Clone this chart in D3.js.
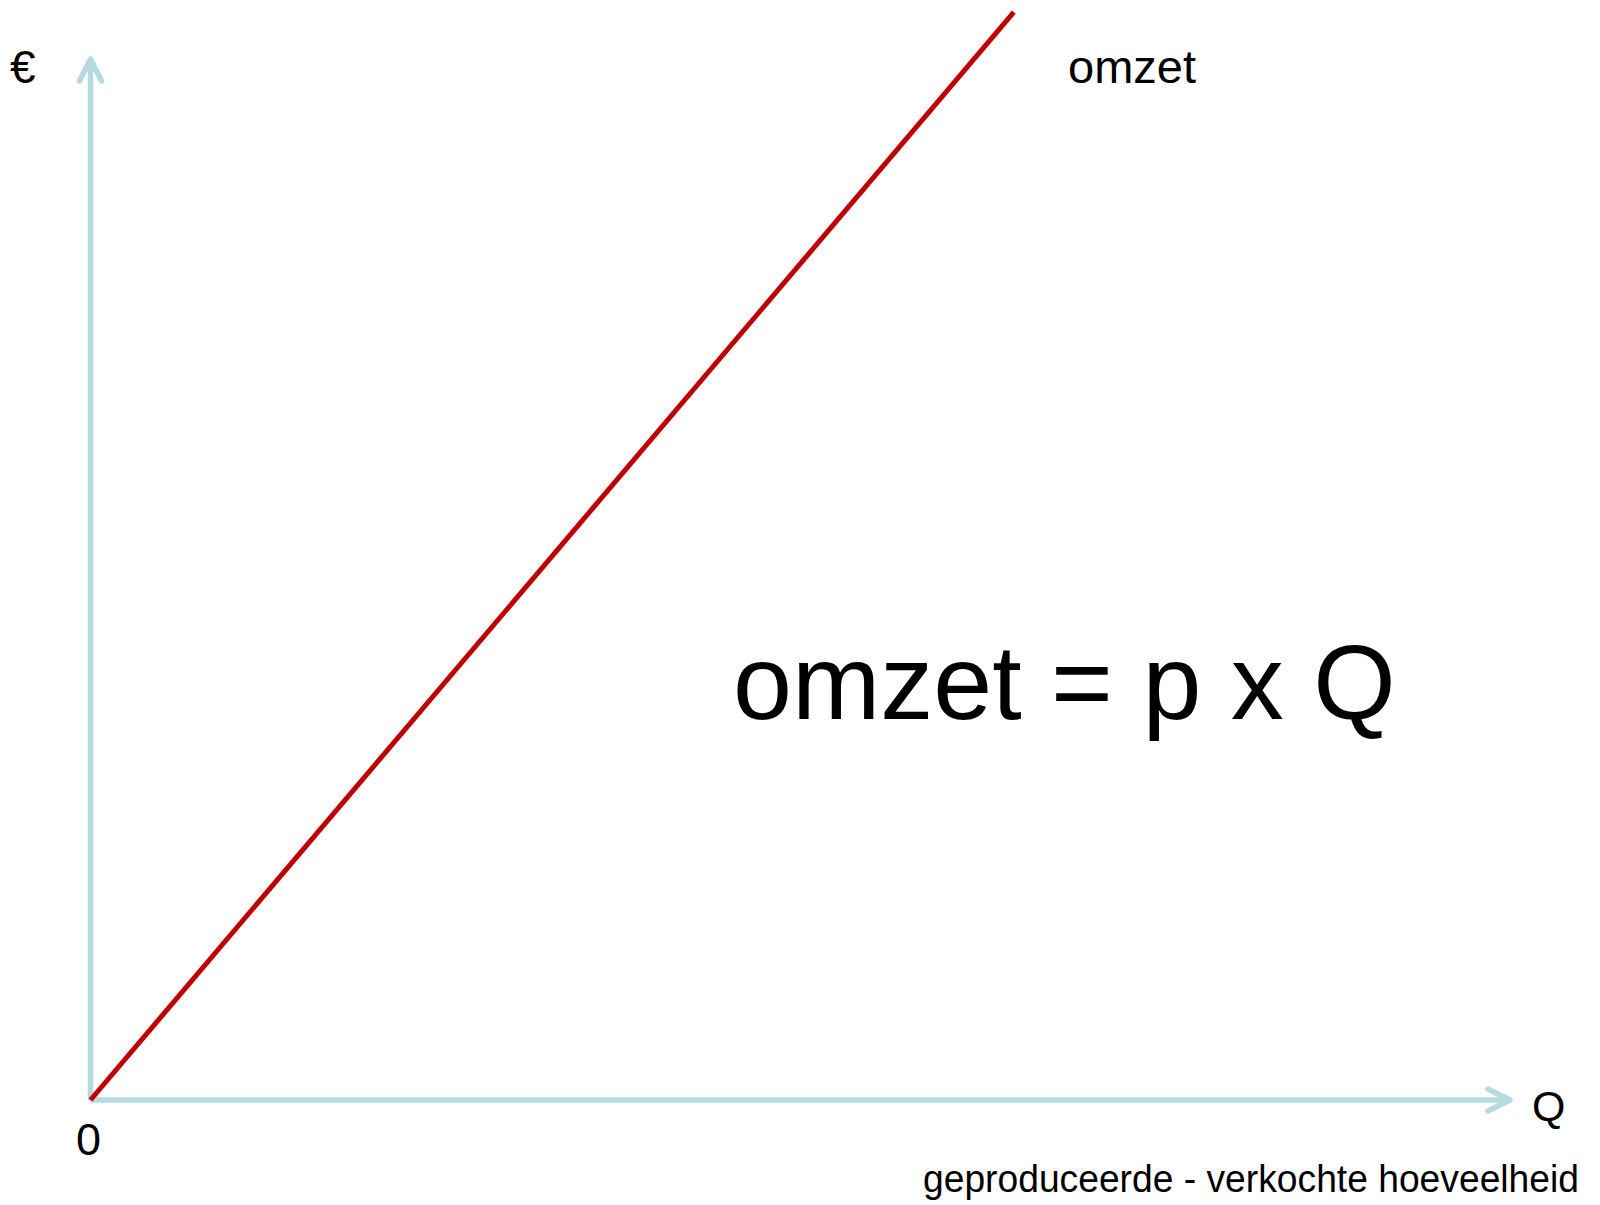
<!DOCTYPE html>
<html>
<head>
<meta charset="utf-8">
<script src="https://cdn.jsdelivr.net/npm/d3@7"></script>
<style>
  body { margin: 0; background: #fff; }
  text { font-family: "Liberation Sans", Arial, sans-serif; fill: #000; }
</style>
</head>
<body>
<div id="plot"></div>
<script>
var w = 1600;
var h = 1205;

// data (arbitrary units)
var quantity = [0, 65];
var revenue = [0, 104.4];
var lineLabel = "omzet";
var formula = "omzet = p x Q";
var xLabel = "geproduceerde - verkochte hoeveelheid";

var xScale = d3.scaleLinear().domain([0, 100]).range([90.5, 1511]);
var yScale = d3.scaleLinear().domain([0, 100]).range([1100, 58]);

var svg = d3.select("#plot")
            .append("svg")
            .attr("width", w)
            .attr("height", h);

var axisColor = "#b5dbe0";

// y axis with arrow
svg.append("line")
   .attr("x1", xScale(0)).attr("y1", yScale(0))
   .attr("x2", xScale(0)).attr("y2", yScale(100))
   .attr("stroke", axisColor).attr("stroke-width", 5.5);
svg.append("path")
   .attr("d", "M" + (xScale(0) - 11) + "," + (yScale(100) + 23) +
              "L" + xScale(0) + "," + (yScale(100) + 1) +
              "L" + (xScale(0) + 11) + "," + (yScale(100) + 23))
   .attr("fill", "none").attr("stroke", axisColor)
   .attr("stroke-width", 5.5).attr("stroke-linecap", "round").attr("stroke-linejoin", "round");

// x axis with arrow
svg.append("line")
   .attr("x1", xScale(0)).attr("y1", yScale(0))
   .attr("x2", xScale(100)).attr("y2", yScale(0))
   .attr("stroke", axisColor).attr("stroke-width", 5.5);
svg.append("path")
   .attr("d", "M" + (xScale(100) - 23) + "," + (yScale(0) - 11) +
              "L" + (xScale(100) - 1) + "," + yScale(0) +
              "L" + (xScale(100) - 23) + "," + (yScale(0) + 11))
   .attr("fill", "none").attr("stroke", axisColor)
   .attr("stroke-width", 5.5).attr("stroke-linecap", "round").attr("stroke-linejoin", "round");

// revenue line
var line = d3.line()
             .x(function(d, i) { return xScale(quantity[i]); })
             .y(function(d) { return yScale(d); });

svg.append("path")
   .datum(revenue)
   .attr("d", line)
   .attr("fill", "none")
   .attr("stroke", "#c00000")
   .attr("stroke-width", 5);

// labels
svg.append("text").text("€")
   .attr("x", 10).attr("y", 83).attr("font-size", 46);

svg.append("text").text("0")
   .attr("x", 76).attr("y", 1155).attr("font-size", 45);

svg.append("text").text("Q")
   .attr("x", 1532).attr("y", 1121).attr("font-size", 43);

svg.append("text").text(lineLabel)
   .attr("x", 1068).attr("y", 83).attr("font-size", 47);

svg.append("text").text(formula)
   .attr("x", 733).attr("y", 719).attr("font-size", 106);

svg.append("text").text(xLabel)
   .attr("x", 923).attr("y", 1192).attr("font-size", 39)
   .attr("textLength", 656).attr("lengthAdjust", "spacingAndGlyphs");
</script>
</body>
</html>
